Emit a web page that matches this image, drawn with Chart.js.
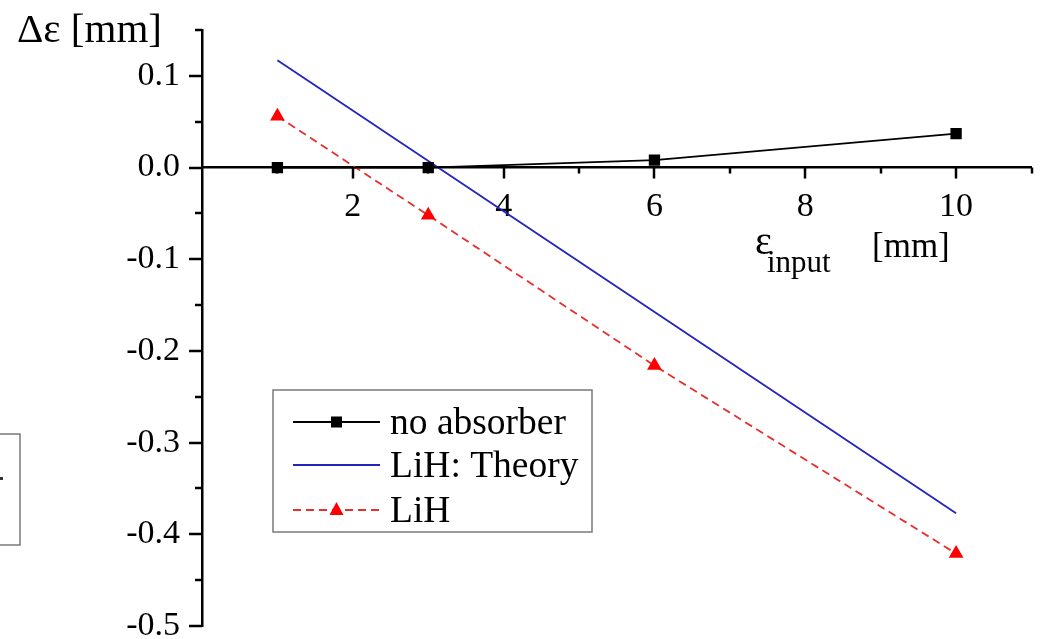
<!DOCTYPE html>
<html>
<head>
<meta charset="utf-8">
<style>
  html, body { margin: 0; padding: 0; background: #fff; }
  #wrap { width: 1040px; height: 639px; position: relative; }
</style>
<script src="https://cdn.jsdelivr.net/npm/chart.js@4"></script>
</head>
<body>
<div id="wrap"><canvas id="c" width="1040" height="639"></canvas></div>
<script>
// ---- data ----
const inputEps = [1, 3, 6, 10];                      // ε_input [mm]
const noAbsorber = [0.0, 0.0, 0.008, 0.037];         // Δε [mm]
const lihMeasured = [0.056, -0.052, -0.216, -0.421]; // Δε [mm]
const theoryX = [1, 10];
const lihTheory = [0.117, -0.377];
const seriesNames = ['no absorber', 'LiH: Theory', 'LiH'];
const xTickValues = [2, 4, 6, 8, 10];
const yTickValues = [-0.5, -0.4, -0.3, -0.2, -0.1, 0.0, 0.1];
const yAxisTitle = 'Δε [mm]';
const xAxisTitleMain = 'ε';
const xAxisTitleSub = 'input';
const xAxisTitleUnit = '[mm]';

const FONT = '"Liberation Serif", "Times New Roman", serif';

const toPts = (xs, ys) => xs.map((x, i) => ({ x: x, y: ys[i] }));

const decorPlugin = {
  id: 'decor',
  afterDraw(chart) {
    const ctx = chart.ctx;
    const xs = chart.scales.x, ys = chart.scales.y;
    const x0 = xs.getPixelForValue(0);
    const y0 = ys.getPixelForValue(0);
    ctx.save();
    // y ticks (major + minor), outward to the left
    ctx.strokeStyle = '#000';
    ctx.lineWidth = 2.5;
    for (let k = -10; k <= 3; k++) {
      const v = k * 0.05;
      const py = Math.round(ys.getPixelForValue(v));
      const len = (k % 2 === 0) ? 13 : 7;
      ctx.beginPath();
      ctx.moveTo(x0, py);
      ctx.lineTo(x0 - len, py);
      ctx.stroke();
    }
    // x ticks (major + minor), downward from the y=0 axis
    for (let v = 1; v <= 11; v++) {
      const px = Math.round(xs.getPixelForValue(v));
      const len = (v % 2 === 0) ? 11 : 6;
      ctx.beginPath();
      ctx.moveTo(px, y0);
      ctx.lineTo(px, y0 + len);
      ctx.stroke();
    }
    // axis titles
    ctx.fillStyle = '#000';
    ctx.textBaseline = 'alphabetic';
    ctx.textAlign = 'left';
    ctx.font = '41px ' + FONT;
    ctx.fillText(yAxisTitle, 17, 42);
    ctx.font = '40px ' + FONT;
    ctx.fillText(xAxisTitleMain, 755, 254);
    ctx.font = '31px ' + FONT;
    ctx.fillText(xAxisTitleSub, 767, 272);
    ctx.font = '35px ' + FONT;
    ctx.fillText(xAxisTitleUnit, 872, 257);

    // legend box
    const lx = 273, ly = 390, lw = 319, lh = 142;
    ctx.strokeStyle = '#7a7a7a';
    ctx.lineWidth = 1.5;
    ctx.strokeRect(lx, ly, lw, lh);
    const rowsY = [422, 465, 510];
    chart.data.datasets.forEach((ds, i) => {
      const yy = rowsY[i];
      ctx.save();
      ctx.strokeStyle = ds.borderColor;
      ctx.lineWidth = ds.borderWidth;
      ctx.setLineDash(ds.borderDash || []);
      ctx.beginPath();
      ctx.moveTo(293, yy);
      ctx.lineTo(380, yy);
      ctx.stroke();
      ctx.setLineDash([]);
      const cx = 336.5;
      if (ds.pointStyle === 'rect' && ds.pointRadius > 0) {
        ctx.fillStyle = ds.pointBackgroundColor;
        ctx.fillRect(cx - 5.5, yy - 5.5, 11, 11);
      } else if (ds.pointStyle === 'triangle' && ds.pointRadius > 0) {
        ctx.fillStyle = ds.pointBackgroundColor;
        ctx.beginPath();
        ctx.moveTo(cx, yy - 8);
        ctx.lineTo(cx + 7, yy + 5);
        ctx.lineTo(cx - 7, yy + 5);
        ctx.closePath();
        ctx.fill();
      }
      ctx.fillStyle = '#000';
      ctx.font = '37.5px ' + FONT;
      ctx.textBaseline = 'middle';
      ctx.fillText(ds.label, 390, yy + 2);
      ctx.restore();
    });

    // partial box at the left edge of the figure
    ctx.strokeStyle = '#7a7a7a';
    ctx.lineWidth = 1.5;
    ctx.strokeRect(-5, 434, 25, 111);
    ctx.fillStyle = '#333';
    ctx.fillRect(0, 477, 3, 3);
    ctx.restore();
  }
};

const chart = new Chart(document.getElementById('c'), {
  type: 'scatter',
  data: {
    datasets: [
      {
        label: seriesNames[0],
        data: toPts(inputEps, noAbsorber),
        showLine: true,
        borderColor: '#000000',
        borderWidth: 1.8,
        pointStyle: 'rect',
        pointRadius: 8,
        pointBackgroundColor: '#000000',
        pointBorderWidth: 0,
        order: 1
      },
      {
        label: seriesNames[1],
        data: toPts(theoryX, lihTheory),
        showLine: true,
        borderColor: '#2323c0',
        borderWidth: 1.8,
        pointStyle: 'circle',
        pointRadius: 0,
        order: 2
      },
      {
        label: seriesNames[2],
        data: toPts(inputEps, lihMeasured),
        showLine: true,
        borderColor: '#e5302e',
        borderWidth: 1.8,
        borderDash: [8, 5],
        pointStyle: 'triangle',
        pointRadius: 8.5,
        pointBackgroundColor: '#ff0000',
        pointBorderWidth: 0,
        order: 3
      }
    ]
  },
  options: {
    responsive: false,
    animation: false,
    devicePixelRatio: 1,
    layout: { padding: { left: 0, right: 7, top: 30, bottom: 13 } },
    plugins: { legend: { display: false }, tooltip: { enabled: false } },
    elements: { line: { tension: 0 } },
    scales: {
      x: {
        type: 'linear',
        position: { y: 0 },
        min: 0,
        max: 11,
        afterBuildTicks: s => { s.ticks = xTickValues.map(v => ({ value: v })); },
        afterFit: s => { s.paddingLeft = 0; s.paddingRight = 0; s.paddingTop = 0; s.paddingBottom = 0; },
        grid: { display: true, drawOnChartArea: false, drawTicks: false },
        border: { display: true, color: '#000', width: 2.5 },
        ticks: {
          color: '#000',
          padding: 23,
          maxRotation: 0,
          font: { family: FONT, size: 34, lineHeight: 1 },
          callback: v => String(v)
        }
      },
      y: {
        type: 'linear',
        position: 'left',
        min: -0.5,
        max: 0.15,
        afterBuildTicks: s => { s.ticks = yTickValues.map(v => ({ value: v })); },
        afterFit: s => { s.width = 202; s.paddingTop = 0; s.paddingBottom = 0; s.paddingLeft = 0; s.paddingRight = 0; },
        grid: { display: true, drawOnChartArea: false, drawTicks: false },
        border: { display: true, color: '#000', width: 2.5 },
        ticks: {
          color: '#000',
          padding: 22,
          font: { family: FONT, size: 34, lineHeight: 1 },
          callback: v => v.toFixed(1)
        }
      }
    }
  },
  plugins: [decorPlugin]
});
</script>
</body>
</html>
